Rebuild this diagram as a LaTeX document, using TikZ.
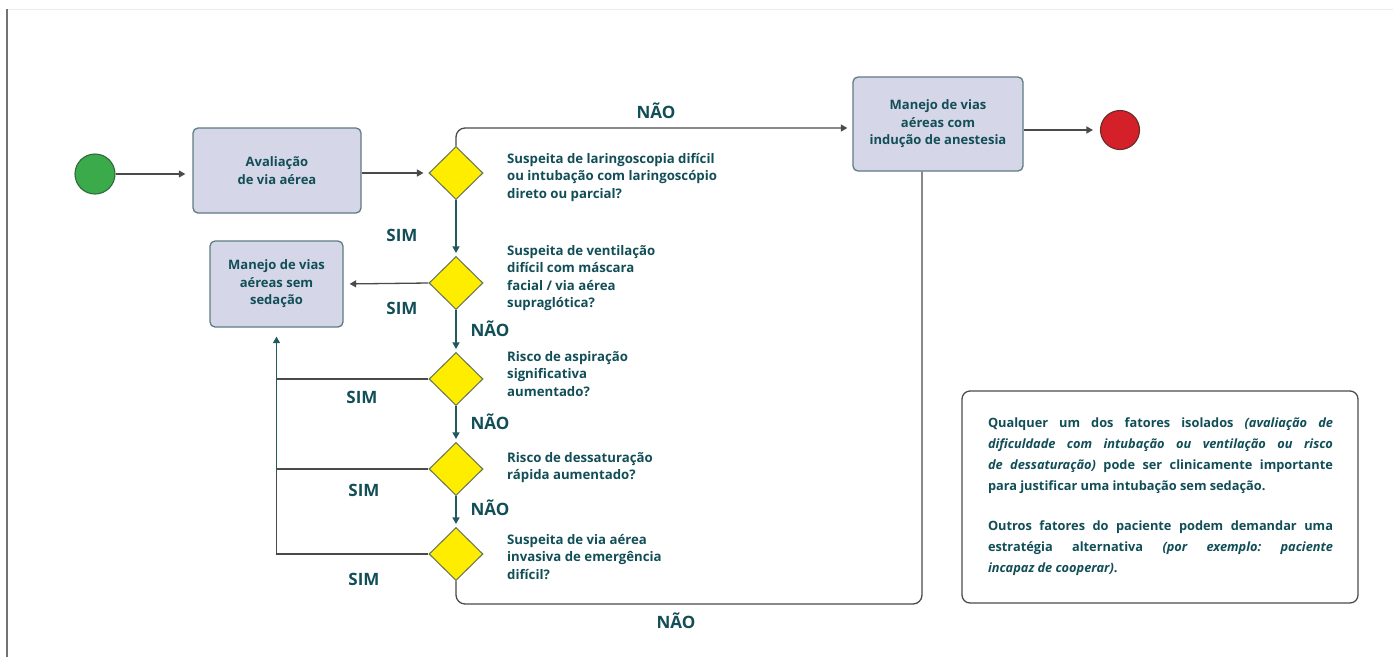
\documentclass[tikz,border=0pt]{standalone}
\usepackage{fontspec}
\setmainfont{Open Sans}
\usetikzlibrary{shapes.geometric,arrows.meta,calc}
\definecolor{textc}{HTML}{124E57}
\definecolor{linegray}{HTML}{4A4A4A}
\definecolor{lineteal}{HTML}{21595F}
\definecolor{boxfill}{HTML}{D5D6E8}
\definecolor{boxdraw}{HTML}{5F7C82}
\definecolor{diafill}{HTML}{FFED00}
\definecolor{diadraw}{HTML}{6E7A55}
\definecolor{startfill}{HTML}{3BAA4A}
\definecolor{startdraw}{HTML}{2C6B3A}
\definecolor{endfill}{HTML}{D42129}
\definecolor{enddraw}{HTML}{6A2A2A}
\tikzset{
  x={(1pt,0)}, y={(0,-1pt)},
  procbox/.style={draw=boxdraw, fill=boxfill, line width=1.3pt, rounded corners=5pt,
     align=center, text=textc, font=\bfseries\fontsize{13}{17.5}\selectfont, inner sep=0pt},
  decide/.style={diamond, draw=diadraw, fill=diafill, line width=1.1pt, minimum width=54pt,
     minimum height=53pt, inner sep=0pt},
  qtext/.style={anchor=west, align=left, text=textc, font=\bfseries\fontsize{13.2}{17.5}\selectfont, inner sep=0pt},
  lab/.style={text=textc, font=\bfseries\fontsize{17}{19}\selectfont, inner sep=0pt},
  flow/.style={line width=1.3pt, draw=lineteal},
  flowg/.style={line width=1.3pt, draw=linegray},
  tip/.style={-{Triangle[width=7pt,length=6.5pt]}},
}
\begin{document}
\begin{tikzpicture}
\useasboundingbox (0,0) rectangle (1393,657);
\fill[white] (0,0) rectangle (1393,657);
\draw[line width=0.6pt, black!8] (7,9) -- (1393,9);
\draw[line width=1.6pt, black!55] (7,9) -- (7,657);

% nodes
\node[circle, draw=startdraw, fill=startfill, line width=1.1pt, minimum size=40pt, inner sep=0pt] (start) at (95,174) {};
\node[procbox, minimum width=168pt, minimum height=85pt] (aval) at (277,170.5) {Avaliação\\de via aérea};
\node[decide] (d1) at (456,173) {};
\node[decide] (d2) at (456,283) {};
\node[decide] (d3) at (456,379) {};
\node[decide] (d4) at (456,469) {};
\node[decide] (d5) at (456,554) {};
\node[procbox, minimum width=170pt, minimum height=94pt] (com) at (938,124) {Manejo de vias\\aéreas com\\indução de anestesia};
\node[circle, draw=enddraw, fill=endfill, line width=1.1pt, minimum size=39pt, inner sep=0pt] (end) at (1120,130) {};
\node[procbox, minimum width=133pt, minimum height=86pt] (sem) at (276.5,284) {Manejo de vias\\aéreas sem\\sedação};

\node[qtext] (q1) at (507,177.5) {Suspeita de laringoscopia difícil\\ou intubação com laringoscópio\\direto ou parcial?};
\node[qtext] (q2) at (507,278) {Suspeita de ventilação\\difícil com máscara\\facial / via aérea\\supraglótica?};
\node[qtext] (q3) at (507,374) {Risco de aspiração\\significativa\\aumentado?};
\node[qtext] (q4) at (507,467.5) {Risco de dessaturação\\rápida aumentado?};
\node[qtext] (q5) at (507,557) {Suspeita de via aérea\\invasiva de emergência\\difícil?};

% note
\node[draw=black!70, line width=1.3pt, rounded corners=8pt, minimum width=396pt, minimum height=212pt, inner sep=0pt] (note) at (1160,497) {};
\node[text=textc, inner sep=0pt, font=\bfseries\fontsize{12.8}{21}\selectfont] (notetext) at (1160.5,497) {\parbox{345pt}{\frenchspacing\hyphenpenalty=10000\exhyphenpenalty=10000\spaceskip=0.25em plus 1em minus 0.05em
Qualquer um dos fatores isolados \textit{(avaliação de}\linebreak
\textit{dificuldade com intubação ou ventilação ou risco}\linebreak
\textit{de dessaturação)} pode ser clinicamente importante\linebreak
para justificar uma intubação sem sedação.\par\vspace{19pt}
Outros fatores do paciente podem demandar uma\linebreak
estratégia alternativa \textit{(por exemplo: paciente}\linebreak
\textit{incapaz de cooperar)}.}};

% connectors
\draw[flowg, tip, shorten >=7pt] (start) -- (start -| aval.west);
\draw[flowg, tip, shorten >=5pt] (aval.east |- d1) -- (d1.west);
\draw[flow, tip, shorten >=3pt] (d1.south) -- (d2.north);
\draw[flow, tip, shorten >=3pt] (d2.south) -- (d3.north);
\draw[flow, tip, shorten >=3pt] (d3.south) -- (d4.north);
\draw[flow, tip, shorten >=3pt] (d4.south) -- (d5.north);
\draw[flowg, tip, rounded corners=9pt, shorten >=5pt] (d1.north) |- ([yshift=-4pt]com.west);
\draw[flowg, tip, shorten >=7pt] (com.east |- end) -- (end);
\draw[flowg, tip, shorten >=6pt] (d2.west) -- (sem.east);
\coordinate (bot) at (700,604);
\draw[flowg, rounded corners=9pt] ([xshift=-16pt]com.south) |- (bot) -| (d5.south);
\draw[flowg] (d3.west) -- (d3.west -| sem.south);
\draw[flowg] (d4.west) -- (d4.west -| sem.south);
\draw[flowg] (d5.west) -| (sem.south |- d4.west);
\draw[flow, tip, shorten >=9pt] (sem.south |- d4.west) -- (sem.south);

% labels
\node[lab] at (656,111) {NÃO};
\node[lab] at (402,235) {SIM};
\node[lab] at (402,308) {SIM};
\node[lab] at (490,329) {NÃO};
\node[lab] at (362,397) {SIM};
\node[lab] at (490,422) {NÃO};
\node[lab] at (364,490) {SIM};
\node[lab] at (490,508) {NÃO};
\node[lab] at (364,579) {SIM};
\node[lab] at (676,621) {NÃO};
\end{tikzpicture}
\end{document}
